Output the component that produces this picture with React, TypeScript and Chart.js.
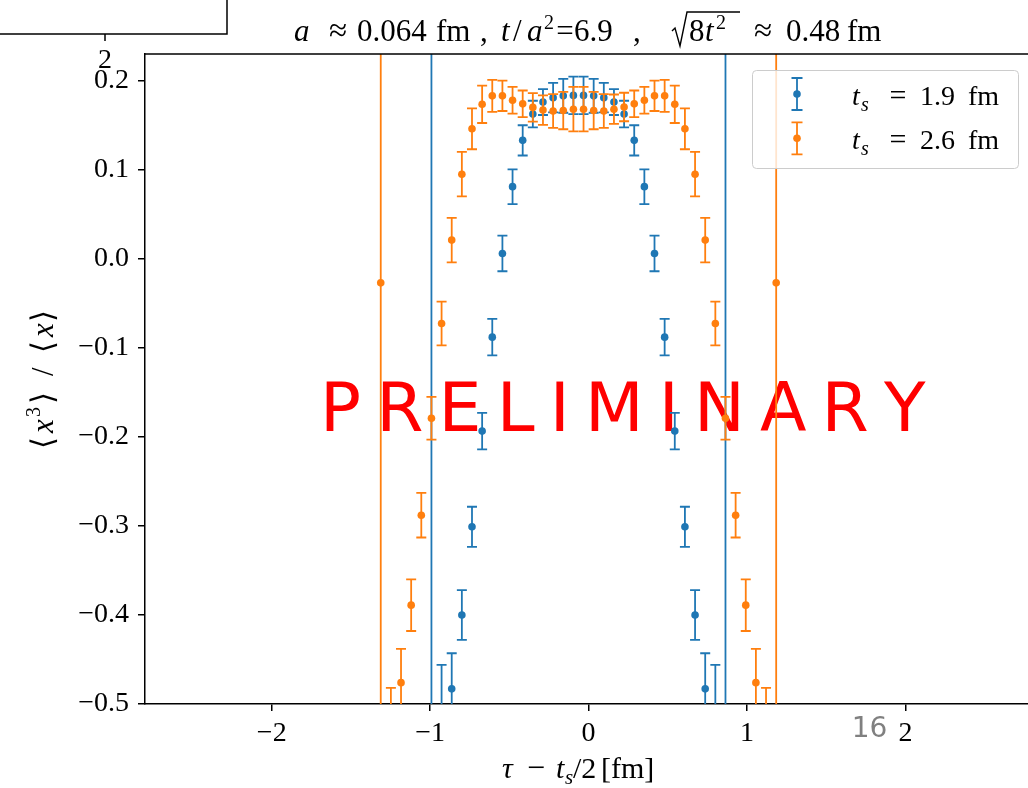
import React, { useEffect, useRef } from "react";
import { Chart, registerables } from "chart.js";
Chart.register(...registerables);

// t_s = 1.9 fm
const tauShort = [-0.992, -0.928, -0.864, -0.8, -0.736, -0.672, -0.608, -0.544, -0.48, -0.416, -0.352, -0.288, -0.224, -0.16, -0.096, -0.032, 0.032, 0.096, 0.16, 0.224, 0.288, 0.352, 0.416, 0.48, 0.544, 0.608, 0.672, 0.736, 0.8, 0.864];
const ratioShort = [-0.95, -0.52, -0.483, -0.4, -0.301, -0.1935, -0.088, 0.006, 0.081, 0.133, 0.1625, 0.176, 0.181, 0.183, 0.1835, 0.1835, 0.183, 0.181, 0.176, 0.1625, 0.133, 0.081, 0.006, -0.088, -0.1935, -0.301, -0.4, -0.483, -0.52, -0.95];
const errShort = [1.6, 0.064, 0.04, 0.028, 0.0225, 0.0205, 0.0205, 0.02, 0.0195, 0.017, 0.015, 0.0145, 0.0165, 0.019, 0.021, 0.021, 0.019, 0.0165, 0.0145, 0.015, 0.017, 0.0195, 0.02, 0.0205, 0.0205, 0.0225, 0.028, 0.04, 0.064, 1.6];

// t_s = 2.6 fm
const tauLong = [-1.312, -1.248, -1.184, -1.12, -1.056, -0.992, -0.928, -0.864, -0.8, -0.736, -0.672, -0.608, -0.544, -0.48, -0.416, -0.352, -0.288, -0.224, -0.16, -0.096, -0.032, 0.032, 0.096, 0.16, 0.224, 0.288, 0.352, 0.416, 0.48, 0.544, 0.608, 0.672, 0.736, 0.8, 0.864, 0.928, 0.992, 1.056, 1.12, 1.184];
const ratioLong = [-0.027, -0.53, -0.476, -0.389, -0.288, -0.179, -0.0727, 0.021, 0.095, 0.146, 0.1735, 0.183, 0.183, 0.178, 0.174, 0.17, 0.167, 0.166, 0.1665, 0.168, 0.168, 0.1665, 0.166, 0.168, 0.1705, 0.174, 0.178, 0.183, 0.183, 0.1735, 0.146, 0.095, 0.021, -0.0727, -0.179, -0.288, -0.389, -0.476, -0.53, -0.027];
const errLong = [1.2, 0.048, 0.038, 0.029, 0.025, 0.024, 0.0245, 0.025, 0.025, 0.023, 0.021, 0.018, 0.017, 0.015, 0.015, 0.016, 0.0165, 0.019, 0.021, 0.025, 0.025, 0.021, 0.019, 0.0165, 0.016, 0.015, 0.015, 0.017, 0.018, 0.021, 0.023, 0.025, 0.025, 0.0245, 0.024, 0.025, 0.029, 0.038, 0.048, 1.2];

const xTickValues = [-2, -1, 0, 1, 2];
const yTickValues = [-0.5, -0.4, -0.3, -0.2, -0.1, 0.0, 0.1, 0.2];
const seriesNames = ["1.9", "2.6"];
const seriesColors = ["#1f77b4", "#ff7f0e"];

const SERIF = '"Liberation Serif", "DejaVu Serif", serif';
const SANS = '"DejaVu Sans", sans-serif';

const seriesX = [tauShort, tauLong];
const seriesY = [ratioShort, ratioLong];
const seriesE = [errShort, errLong];

function fmt(v: number, digits: number) {
  const s = Math.abs(v).toFixed(digits);
  return v < -1e-9 ? "\u2212" + s : s;
}

function put(
  ctx: CanvasRenderingContext2D,
  t: string,
  x: number,
  y: number,
  size: number,
  opts: { it?: boolean; align?: CanvasTextAlign; family?: string; color?: string } = {}
) {
  ctx.font = `${opts.it ? "italic " : ""}${size}px ${opts.family ?? SERIF}`;
  ctx.textAlign = opts.align ?? "left";
  ctx.textBaseline = "alphabetic";
  ctx.fillStyle = opts.color ?? "#000";
  ctx.fillText(t, x, y);
}

function errorBar(ctx: CanvasRenderingContext2D, px: number, y1: number, y2: number, cap: number) {
  ctx.beginPath();
  ctx.moveTo(px, y1);
  ctx.lineTo(px, y2);
  ctx.moveTo(px - cap, y1);
  ctx.lineTo(px + cap, y1);
  ctx.moveTo(px - cap, y2);
  ctx.lineTo(px + cap, y2);
  ctx.stroke();
}

const errPlugin = {
  id: "errbars",
  beforeDatasetDraw(chart: any, args: any) {
    const i = args.index;
    const ctx: CanvasRenderingContext2D = chart.ctx;
    const { left, right, top, bottom } = chart.chartArea;
    const xs = chart.scales.x;
    const ys = chart.scales.y;
    ctx.save();
    ctx.beginPath();
    ctx.rect(left, top, right - left, bottom - top);
    ctx.clip();
    ctx.strokeStyle = seriesColors[i];
    ctx.lineWidth = 1.8;
    const X = seriesX[i], Y = seriesY[i], E = seriesE[i];
    for (let k = 0; k < X.length; k++) {
      const px = xs.getPixelForValue(X[k]);
      const y1 = ys.getPixelForValue(Y[k] + E[k]);
      const y2 = ys.getPixelForValue(Y[k] - E[k]);
      errorBar(ctx, px, y1, y2, 5);
    }
    ctx.restore();
  },
};

const textPlugin = {
  id: "texts",
  beforeDatasetsDraw(chart: any) {
    const ctx: CanvasRenderingContext2D = chart.ctx;
    ctx.save();
    const word = "PRELIMINARY";
    ctx.font = `68px ${SANS}`;
    const chars = [...word];
    const widths = chars.map((c) => ctx.measureText(c).width);
    const first = ctx.measureText(chars[0]);
    const last = ctx.measureText(chars[chars.length - 1]);
    const inkLeft = 326, inkRight = 926;
    const x0 = inkLeft + first.actualBoundingBoxLeft;
    const sumAdv = widths.slice(0, -1).reduce((a, b) => a + b, 0);
    const gap = (inkRight - last.actualBoundingBoxRight - x0 - sumAdv) / (chars.length - 1);
    let x = x0;
    chars.forEach((c, k) => {
      put(ctx, c, x, 431, 68, { family: SANS, color: "#ff0000" });
      x += widths[k] + gap;
    });
    ctx.restore();
  },
  afterDatasetsDraw(chart: any) {
    const ctx: CanvasRenderingContext2D = chart.ctx;
    const { left, right, top } = chart.chartArea;
    ctx.save();
    ctx.strokeStyle = "#000";
    ctx.lineWidth = 1.5;
    ctx.beginPath();
    ctx.moveTo(left, top);
    ctx.lineTo(right, top);
    ctx.lineTo(right, chart.chartArea.bottom);
    ctx.stroke();
    ctx.restore();
  },
  afterDraw(chart: any) {
    const ctx: CanvasRenderingContext2D = chart.ctx;
    ctx.save();
    // title
    const B = 41, F = 31, S = 20;
    put(ctx, "a", 294, B, F, { it: true });
    put(ctx, "\u2248", 338, B, F + 2, { align: "center" });
    put(ctx, "0.064", 357, B, F);
    put(ctx, "fm", 436, B, F);
    put(ctx, ",", 480, B, F);
    put(ctx, "t", 501, B, F, { it: true });
    put(ctx, "/", 513, B, F);
    put(ctx, "a", 527, B, F, { it: true });
    put(ctx, "2", 544, B - 12, S);
    put(ctx, "=", 565, B, F, { align: "center" });
    put(ctx, "6.9", 574, B, F);
    put(ctx, ",", 633, B, F);
    ctx.strokeStyle = "#000";
    ctx.lineWidth = 1.4;
    ctx.beginPath();
    ctx.moveTo(672, B - 10);
    ctx.lineTo(675, B - 13);
    ctx.lineTo(680, B + 5);
    ctx.lineTo(687, B - 29);
    ctx.lineTo(740, B - 29);
    ctx.stroke();
    put(ctx, "8", 689, B, F);
    put(ctx, "t", 705, B, F, { it: true });
    put(ctx, "2", 716, B - 12, S);
    put(ctx, "\u2248", 763, B, F + 2, { align: "center" });
    put(ctx, "0.48", 786, B, F);
    put(ctx, "fm", 847, B, F);

    // x label
    const XB = 778, XF = 30;
    put(ctx, "\u03c4", 502, XB, XF, { it: true });
    put(ctx, "\u2212", 536, XB, XF + 2, { align: "center" });
    put(ctx, "t", 556, XB, XF, { it: true });
    put(ctx, "s", 565, XB + 6, 21, { it: true });
    put(ctx, "/2", 573, XB, XF);
    put(ctx, "[fm]", 601, XB, XF);

    // y label (rotated)
    ctx.save();
    ctx.translate(53, 0);
    ctx.rotate(-Math.PI / 2);
    const YF = 31;
    put(ctx, "\u27e8", -449, 0, YF);
    put(ctx, "x", -433, 0, YF, { it: true });
    put(ctx, "3", -417, -13, 20);
    put(ctx, "\u27e9", -404, 0, YF);
    put(ctx, "/", -376, 0, YF);
    put(ctx, "\u27e8", -353, 0, YF);
    put(ctx, "x", -337, 0, YF, { it: true });
    put(ctx, "\u27e9", -322, 0, YF);
    ctx.restore();

    // legend
    ctx.beginPath();
    (ctx as any).roundRect(752.5, 70.5, 266, 98, 4);
    ctx.fillStyle = "rgba(255,255,255,0.8)";
    ctx.fill();
    ctx.strokeStyle = "#cccccc";
    ctx.lineWidth = 1;
    ctx.stroke();
    seriesNames.forEach((name, k) => {
      const cy = 94 + k * 44.3;
      ctx.strokeStyle = seriesColors[k];
      ctx.lineWidth = 1.8;
      errorBar(ctx, 797, cy - 16, cy + 16, 5.5);
      ctx.fillStyle = seriesColors[k];
      ctx.beginPath();
      ctx.arc(797, cy, 3.8, 0, Math.PI * 2);
      ctx.fill();
      const base = cy + 11;
      put(ctx, "t", 852, base, 28, { it: true });
      put(ctx, "s", 861, base + 6, 20, { it: true });
      put(ctx, "=", 898, base, 30, { align: "center" });
      put(ctx, name, 920, base, 28);
      put(ctx, "fm", 968, base, 28);
    });

    // fragment of another axes at top-left
    ctx.strokeStyle = "#000";
    ctx.lineWidth = 1.5;
    ctx.beginPath();
    ctx.moveTo(0, 34);
    ctx.lineTo(227, 34);
    ctx.lineTo(227, 0);
    ctx.moveTo(105, 34);
    ctx.lineTo(105, 41);
    ctx.stroke();
    put(ctx, "2", 105, 68, 28, { align: "center" });

    // stray page number
    put(ctx, "16", 869.5, 737, 28, { family: SANS, color: "#808080", align: "center" });
    ctx.restore();
  },
};

export default function App() {
  const ref = useRef<HTMLCanvasElement>(null);
  useEffect(() => {
    const canvas = ref.current!;
    const chart = new Chart(canvas, {
      type: "scatter",
      data: {
        datasets: seriesNames.map((name, i) => ({
          label: `t_s = ${name} fm`,
          data: seriesX[i].map((x, k) => ({ x, y: seriesY[i][k] })),
          backgroundColor: seriesColors[i],
          borderColor: seriesColors[i],
          pointRadius: 3.8,
          pointHoverRadius: 3.8,
          pointBorderWidth: 0,
          showLine: false,
          order: i === 0 ? 1 : 0,
        })),
      },
      options: {
        animation: false,
        responsive: false,
        devicePixelRatio: 1,
        events: [],
        layout: { padding: { top: 54, right: 1, left: 0, bottom: 0 } },
        plugins: { legend: { display: false }, title: { display: false }, tooltip: { enabled: false } },
        scales: {
          x: {
            type: "linear",
            min: -2.8,
            max: 2.8,
            afterBuildTicks: (s: any) => {
              s.ticks = xTickValues.map((v) => ({ value: v }));
            },
            afterFit: (s: any) => {
              s.height = 84;
            },
            ticks: {
              callback: (v: any) => fmt(Number(v), 0),
              font: { family: SERIF, size: 28 },
              color: "#000",
              padding: 6,
              maxRotation: 0,
              autoSkip: false,
            },
            grid: { drawOnChartArea: false, drawTicks: true, tickLength: 7, color: "#000", lineWidth: 1.5 },
            border: { display: true, color: "#000", width: 1.5 },
          },
          y: {
            type: "linear",
            min: -0.5,
            max: 0.23,
            afterBuildTicks: (s: any) => {
              s.ticks = yTickValues.map((v) => ({ value: v }));
            },
            afterFit: (s: any) => {
              s.width = 145;
            },
            ticks: {
              callback: (v: any) => fmt(Number(v), 1),
              font: { family: SERIF, size: 28 },
              color: "#000",
              padding: 9,
              autoSkip: false,
            },
            grid: { drawOnChartArea: false, drawTicks: true, tickLength: 7, color: "#000", lineWidth: 1.5 },
            border: { display: true, color: "#000", width: 1.5 },
          },
        },
      } as any,
      plugins: [errPlugin, textPlugin],
    });
    return () => chart.destroy();
  }, []);
  return (
    <div style={{ position: "absolute", left: 0, top: 0, width: 1028, height: 788, overflow: "hidden", background: "#fff" }}>
      <canvas ref={ref} width={1036} height={788} style={{ display: "block" }} />
    </div>
  );
}
